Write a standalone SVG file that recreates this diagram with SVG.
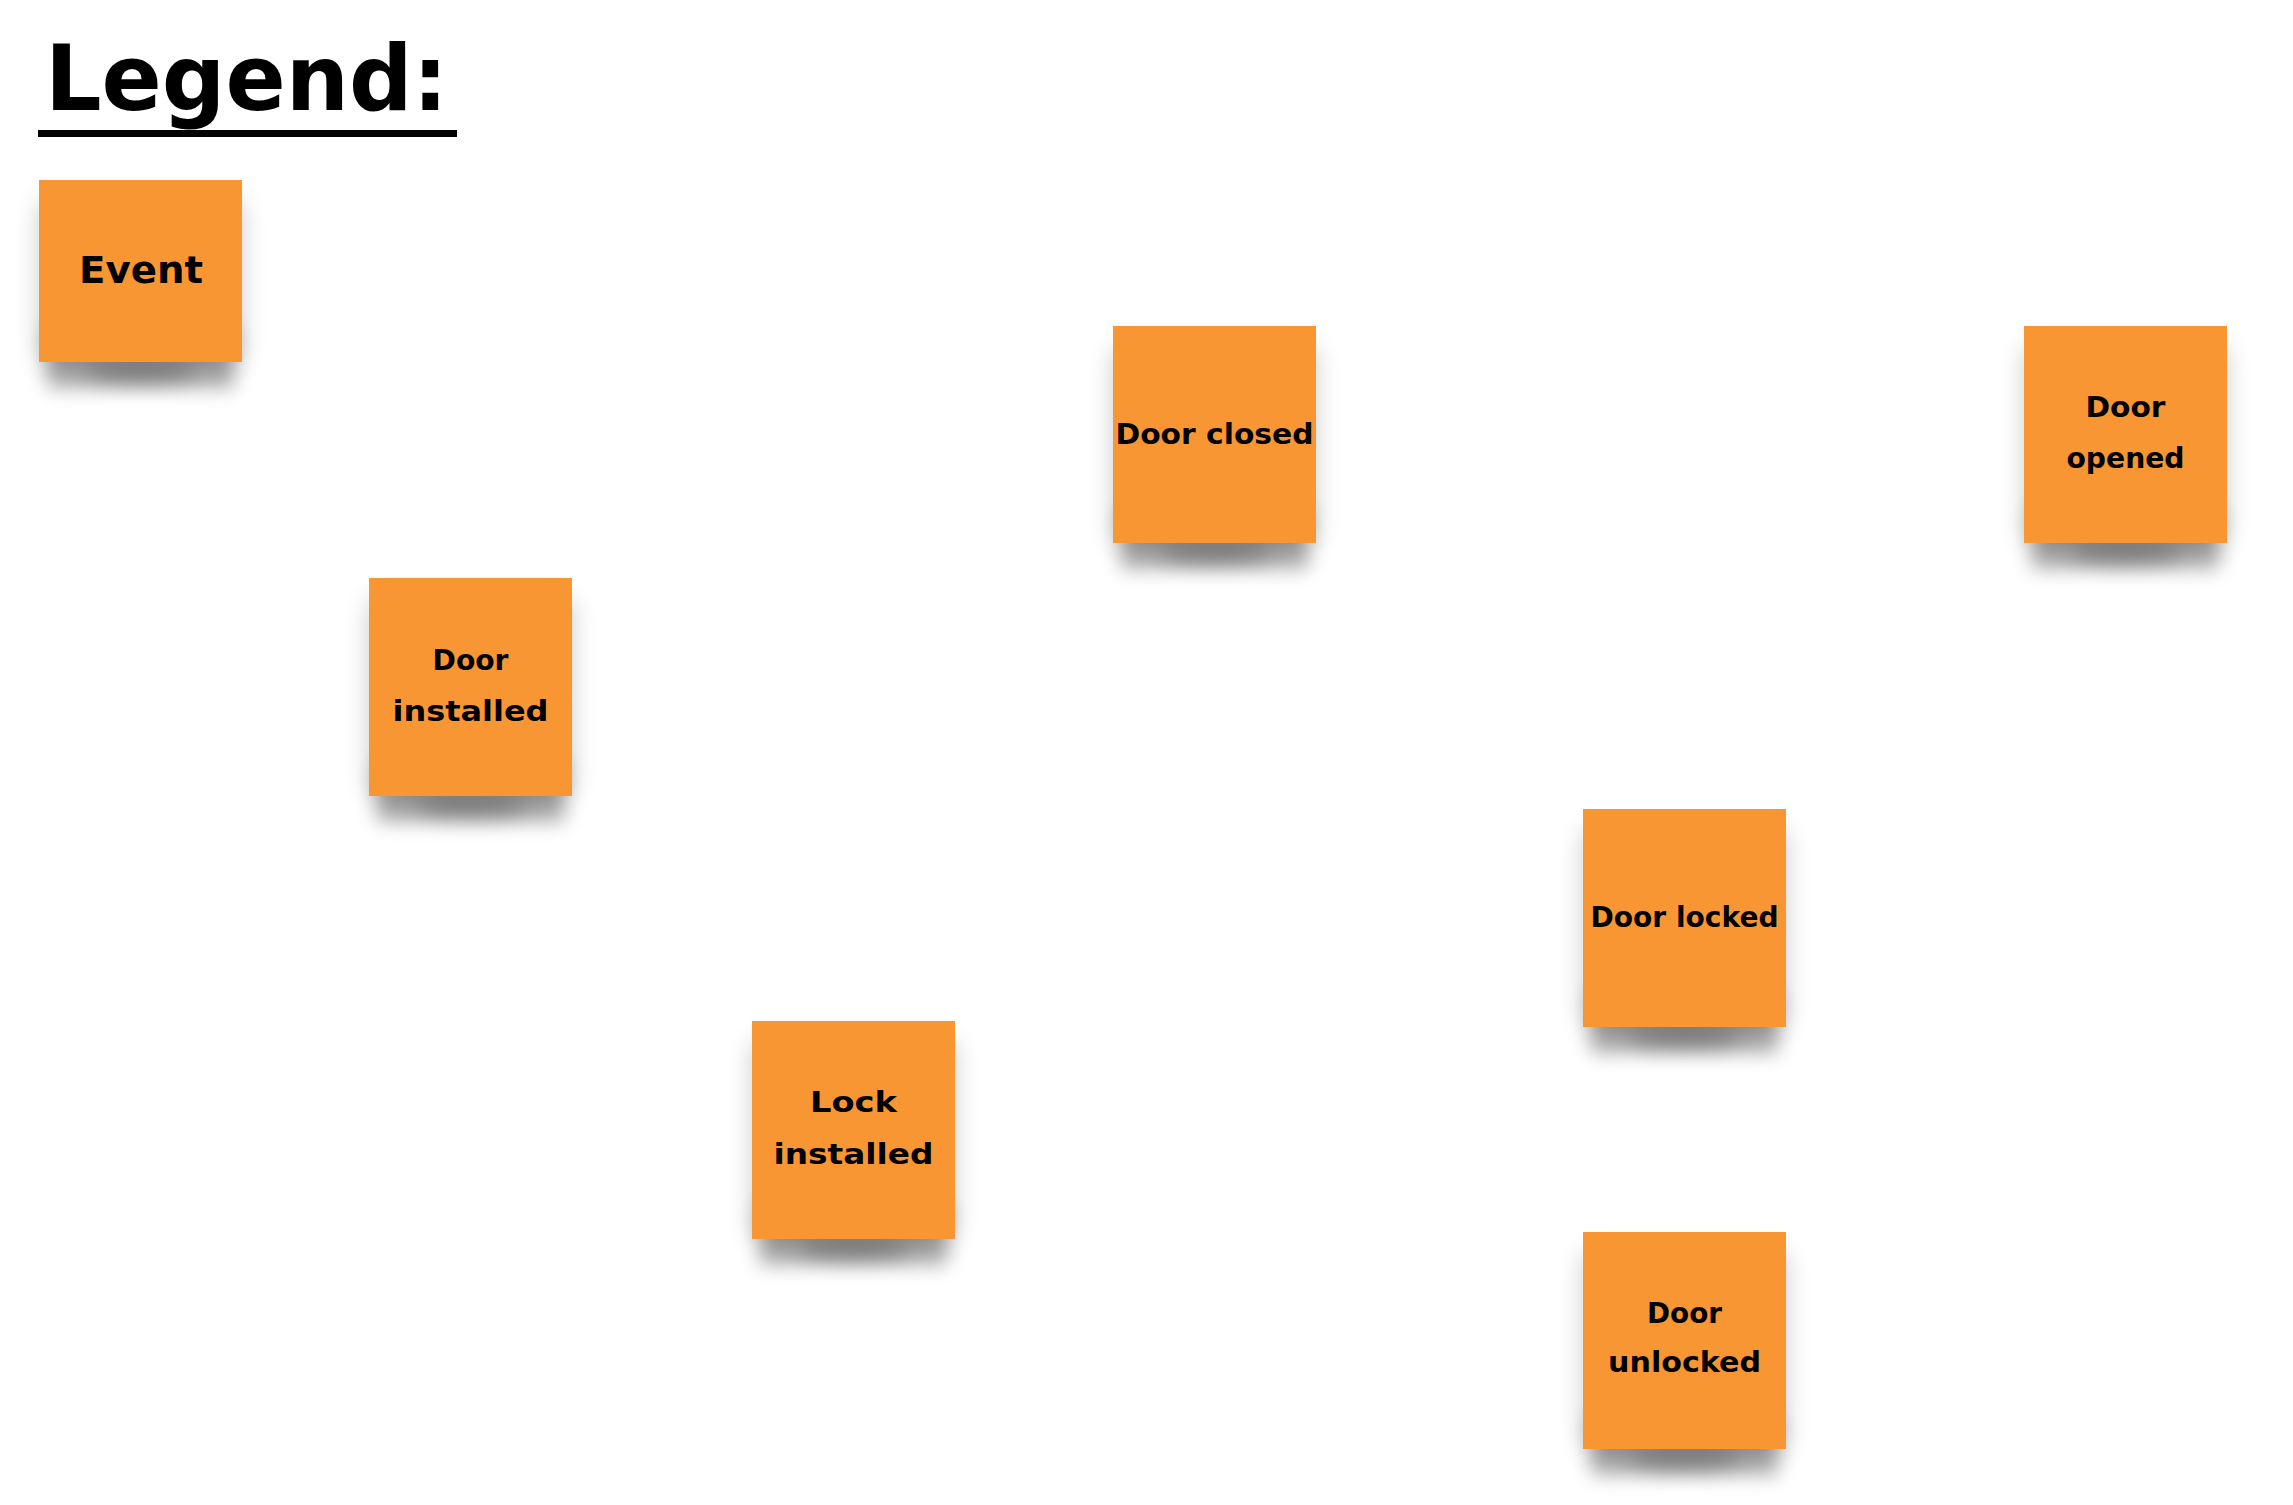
<svg xmlns="http://www.w3.org/2000/svg" width="2293" height="1505" viewBox="0 0 2293 1505">
  <defs>
    <filter id="blurA" x="-30%" y="-80%" width="160%" height="260%">
      <feGaussianBlur stdDeviation="10"/>
    </filter>
    <filter id="blurB" x="-30%" y="-30%" width="160%" height="160%">
      <feGaussianBlur stdDeviation="12"/>
    </filter>
  </defs>
  <style>
    .bg { fill: #ffffff; }
    .note { fill: #F99634; }
    .halo { fill: #000000; opacity: 0.2; filter: url(#blurB); }
    .sh1 { fill: #000000; opacity: 0.36; filter: url(#blurA); }
    .sh2 { fill: #000000; opacity: 0.22; filter: url(#blurA); }
    .lbl { font-family: "DejaVu Sans", "Liberation Sans", sans-serif; font-weight: bold; font-size: 29px; fill: #000000; text-anchor: middle; }
    .evt { font-size: 37px; }
    .title { font-family: "DejaVu Sans", "Liberation Sans", sans-serif; font-weight: bold; font-size: 90px; fill: #000000; }
  </style>
  <rect class="bg" x="0" y="0" width="2293" height="1505"/>

  <g id="legend-title">
    <text class="title" x="45" y="110" textLength="403" lengthAdjust="spacingAndGlyphs">Legend:</text>
    <rect x="38" y="130" width="419" height="7" fill="#000000"/>
  </g>

  <g id="connectors"></g>

  <g id="node-event" transform="translate(39,180)">
    <rect class="halo" x="0" y="22" width="203" height="160"/>
    <rect class="sh1" x="8" y="147" width="187" height="60"/>
    <ellipse class="sh2" cx="101.5" cy="192" rx="55" ry="12"/>
    <rect class="note" x="0" y="0" width="203" height="182"/>
    <text class="lbl evt" x="102" y="103" textLength="124" lengthAdjust="spacingAndGlyphs">Event</text>
  </g>

  <g id="node-door-closed" transform="translate(1113,326)">
    <rect class="halo" x="0" y="22" width="203" height="195"/>
    <rect class="sh1" x="8" y="182" width="187" height="60"/>
    <ellipse class="sh2" cx="101.5" cy="227" rx="55" ry="12"/>
    <rect class="note" x="0" y="0" width="203" height="217"/>
    <text class="lbl" x="101.5" y="118" textLength="198" lengthAdjust="spacingAndGlyphs">Door closed</text>
  </g>

  <g id="node-door-opened" transform="translate(2024,326)">
    <rect class="halo" x="0" y="22" width="203" height="195"/>
    <rect class="sh1" x="8" y="182" width="187" height="60"/>
    <ellipse class="sh2" cx="101.5" cy="227" rx="55" ry="12"/>
    <rect class="note" x="0" y="0" width="203" height="217"/>
    <text class="lbl" x="101.5" y="91" textLength="80" lengthAdjust="spacingAndGlyphs">Door</text>
    <text class="lbl" x="101.5" y="142" textLength="118" lengthAdjust="spacingAndGlyphs">opened</text>
  </g>

  <g id="node-door-installed" transform="translate(369,578)">
    <rect class="halo" x="0" y="22" width="203" height="196"/>
    <rect class="sh1" x="8" y="183" width="187" height="60"/>
    <ellipse class="sh2" cx="101.5" cy="228" rx="55" ry="12"/>
    <rect class="note" x="0" y="0" width="203" height="218"/>
    <text class="lbl" x="101.5" y="92" textLength="76" lengthAdjust="spacingAndGlyphs">Door</text>
    <text class="lbl" x="101.5" y="143" textLength="156" lengthAdjust="spacingAndGlyphs">installed</text>
  </g>

  <g id="node-door-locked" transform="translate(1583,809)">
    <rect class="halo" x="0" y="22" width="203" height="196"/>
    <rect class="sh1" x="8" y="183" width="187" height="60"/>
    <ellipse class="sh2" cx="101.5" cy="228" rx="55" ry="12"/>
    <rect class="note" x="0" y="0" width="203" height="218"/>
    <text class="lbl" x="101.5" y="118" textLength="188" lengthAdjust="spacingAndGlyphs">Door locked</text>
  </g>

  <g id="node-lock-installed" transform="translate(752,1021)">
    <rect class="halo" x="0" y="22" width="203" height="196"/>
    <rect class="sh1" x="8" y="183" width="187" height="60"/>
    <ellipse class="sh2" cx="101.5" cy="228" rx="55" ry="12"/>
    <rect class="note" x="0" y="0" width="203" height="218"/>
    <text class="lbl" x="101.5" y="91" textLength="87" lengthAdjust="spacingAndGlyphs">Lock</text>
    <text class="lbl" x="101.5" y="143" textLength="160" lengthAdjust="spacingAndGlyphs">installed</text>
  </g>

  <g id="node-door-unlocked" transform="translate(1583,1232)">
    <rect class="halo" x="0" y="22" width="203" height="195"/>
    <rect class="sh1" x="8" y="182" width="187" height="60"/>
    <ellipse class="sh2" cx="101.5" cy="227" rx="55" ry="12"/>
    <rect class="note" x="0" y="0" width="203" height="217"/>
    <text class="lbl" x="101.5" y="91" textLength="75" lengthAdjust="spacingAndGlyphs">Door</text>
    <text class="lbl" x="101.5" y="140" textLength="153" lengthAdjust="spacingAndGlyphs">unlocked</text>
  </g>
</svg>
